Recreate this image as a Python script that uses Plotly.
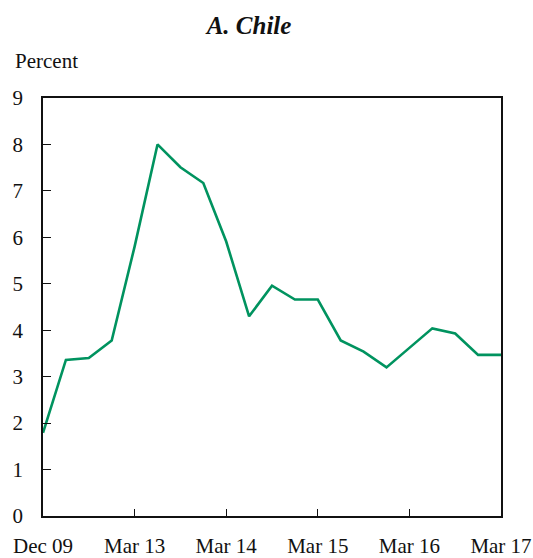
import plotly.graph_objects as go

# quarters: annual points 2009-2012, then quarterly from Mar 13
periods = ["Dec 09", "Dec 10", "Dec 11", "Dec 12",
           "Mar 13", "Jun 13", "Sep 13", "Dec 13",
           "Mar 14", "Jun 14", "Sep 14", "Dec 14",
           "Mar 15", "Jun 15", "Sep 15", "Dec 15",
           "Mar 16", "Jun 16", "Sep 16", "Dec 16",
           "Mar 17"]
chile = [1.79, 3.36, 3.40, 3.78,
         5.80, 8.00, 7.51, 7.17,
         5.91, 4.30, 4.96, 4.66,
         4.66, 3.78, 3.54, 3.20,
         3.62, 4.04, 3.93, 3.47,
         3.47]
tick_labels = ["Dec 09", "Mar 13", "Mar 14", "Mar 15", "Mar 16", "Mar 17"]
y_ticks = list(range(0, 10))

W, H = 533, 558
L, R, T, B = 43, 32, 98, 42
serif = "Liberation Serif, Times New Roman, serif"

fig = go.Figure()
fig.add_trace(go.Scatter(x=periods, y=chile, mode="lines",
                         line=dict(color="#00935F", width=2.6),
                         showlegend=False, hoverinfo="x+y"))

fig.update_layout(
    width=W, height=H,
    margin=dict(l=L, r=R, t=T, b=B, autoexpand=False),
    paper_bgcolor="white", plot_bgcolor="white",
    font=dict(family=serif, size=21, color="#111"),
    title=dict(text="<b><i>A. Chile</i></b>", x=249 / W, xanchor="center",
               y=1 - 25 / H, yanchor="middle", yref="container",
               font=dict(family=serif, size=25, color="#111")),
    annotations=[dict(text="Percent", xref="paper", yref="paper",
                      x=-(L - 13) / (W - L - R), y=1 + (T - 61) / (H - T - B),
                      xanchor="left", yanchor="middle", showarrow=False,
                      font=dict(family=serif, size=21, color="#111"))],
)
fig.update_xaxes(type="category", range=[0, len(periods) - 1],
                 tickvals=tick_labels, ticktext=tick_labels,
                 ticks="inside", ticklen=7, tickwidth=1.3, tickcolor="#111",
                 showline=True, linecolor="#111", linewidth=1.5, mirror=True,
                 showgrid=False, zeroline=False, ticklabelstandoff=10,
                 automargin=False)
fig.update_yaxes(range=[0, 9], tickvals=y_ticks,
                 ticks="inside", ticklen=8, tickwidth=1.3, tickcolor="#111",
                 showline=True, linecolor="#111", linewidth=1.5, mirror=True,
                 showgrid=False, zeroline=False, ticklabelstandoff=14,
                 automargin=False)

# drop the browser's default 8px body margin so the figure fills the window
fig.write_html("out.html", config={"displayModeBar": False},
               post_script="document.body.style.margin = '0';")
